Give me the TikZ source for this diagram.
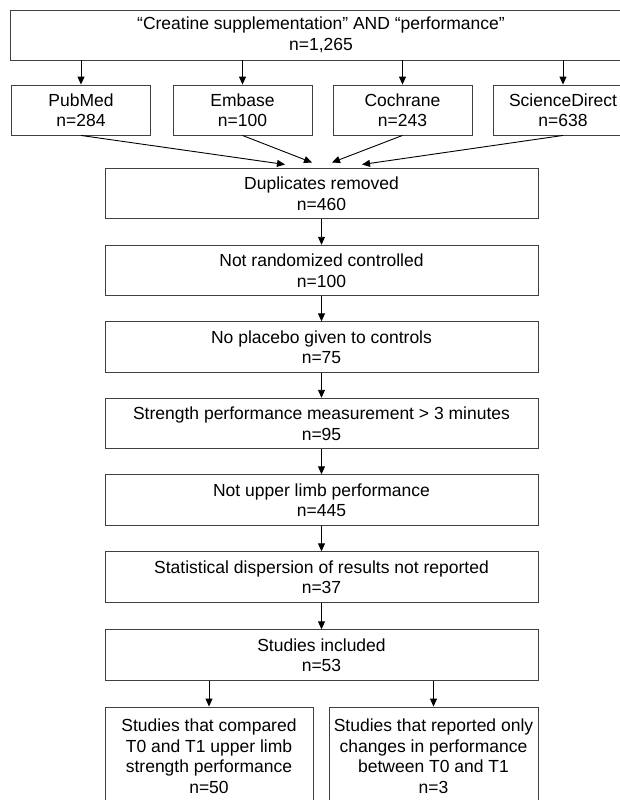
\documentclass[tikz,border=0pt]{standalone}
\usepackage{fontspec}
\setmainfont{Liberation Sans}
\usetikzlibrary{arrows.meta}
\begin{document}
\begin{tikzpicture}[x=1pt,y=-1pt,
  box/.style={draw=black!75, line width=0.9pt, rectangle, inner sep=0pt, align=center,
    font=\fontsize{17.5}{20.5}\selectfont},
  srcbox/.style={box, minimum width=139pt, minimum height=50pt},
  mainbox/.style={box, minimum width=433pt, minimum height=50.5pt},
  endbox/.style={box, minimum height=98pt},
  arr/.style={-{Triangle[length=8pt,width=7pt]}, line width=0.9pt, black}]
\useasboundingbox (0,0) rectangle (620,800);
\clip (0,0) rectangle (620,800);

\node[box, minimum width=622pt, minimum height=50pt] (top) at (321,35)
  {“Creatine supplementation” AND “performance”\\n=1,265};

\node[srcbox] (pub) at (81,110) {PubMed\\n=284};
\node[srcbox] (emb) at (242.5,110) {Embase\\n=100};
\node[srcbox] (coc) at (402.5,110) {Cochrane\\n=243};
\node[srcbox] (sci) at (563,110) {ScienceDirect\\n=638};

\node[mainbox] (dup) at (321.5,193.5) {Duplicates removed\\n=460};
\node[mainbox] (nrc) at (321.5,270.5) {Not randomized controlled\\n=100};
\node[mainbox] (npl) at (321.5,347) {No placebo given to controls\\n=75};
\node[mainbox] (str) at (321.5,423.5) {Strength performance measurement > 3 minutes\\n=95};
\node[mainbox] (nul) at (321.5,500) {Not upper limb performance\\n=445};
\node[mainbox] (sdr) at (321.5,577) {Statistical dispersion of results not reported\\n=37};
\node[mainbox] (inc) at (321.5,655) {Studies included\\n=53};

\node[endbox, minimum width=208pt] (cmp) at (209,756)
  {Studies that compared\\T0 and T1 upper limb\\strength performance\\n=50};
\node[endbox, minimum width=209pt] (rep) at (433.5,756)
  {Studies that reported only\\changes in performance\\between T0 and T1\\n=3};

\coordinate (t1) at (285,164.5);
\coordinate (t2) at (312,162.5);
\coordinate (t3) at (332,162.5);
\coordinate (t4) at (362,164.5);

\foreach \b in {pub,emb,coc,sci}
  \draw[arr] (top.south -| \b.north) -- (\b.north);

\draw[arr] (pub.south) -- (t1);
\draw[arr] (emb.south) -- (t2);
\draw[arr] (coc.south) -- (t3);
\draw[arr] (sci.south) -- (t4);

\draw[arr] (dup) -- (nrc);
\draw[arr] (nrc) -- (npl);
\draw[arr] (npl) -- (str);
\draw[arr] (str) -- (nul);
\draw[arr] (nul) -- (sdr);
\draw[arr] (sdr) -- (inc);

\draw[arr] (inc.south -| cmp.north) -- (cmp.north);
\draw[arr] (inc.south -| rep.north) -- (rep.north);
\end{tikzpicture}
\end{document}
